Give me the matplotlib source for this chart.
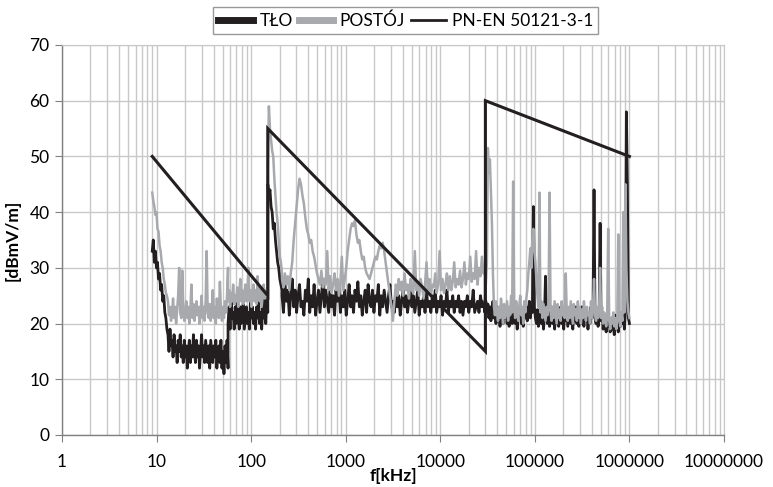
import numpy as np
import matplotlib
matplotlib.use("Agg")
import matplotlib.pyplot as plt
from matplotlib.lines import Line2D
from matplotlib.ticker import LogLocator, FixedLocator

plt.rcParams['font.family'] = ['Lato', 'DejaVu Sans']

# band edges of the sweep [kHz]
BAND_A = (9, 13.2, 57, 150)
BAND_B = (150, 212, 29600)
BAND_C = (29600, 1000000)

# TŁO (background) readings, dB
tlo_a1 = [33, 35, 31, 33, 30, 31, 28, 29, 26, 27, 24, 25, 22, 21, 19, 18]
tlo_a2 = [18, 15, 19, 16, 17, 14, 18, 15, 16, 13, 17, 15, 18, 14, 16, 13, 17, 14, 16, 12,
          15, 17, 13, 16, 14, 18, 15, 13, 17, 14, 16, 12, 15, 18, 14, 16, 13, 17, 15, 13,
          16, 12, 17, 15, 13, 16, 14, 17, 12, 15, 16, 13, 17, 12, 15, 11, 16, 13, 17, 12]
tlo_a3 = [20, 23, 19, 24, 21, 22, 19, 23, 20, 24, 21, 19, 23, 20, 22, 24, 19, 21, 23, 20,
          22, 19, 24, 21, 23, 20, 22, 19, 23, 21, 24, 20, 22, 19, 23, 21, 25, 20, 24, 22]
tlo_b1 = [45, 43, 44, 41, 40, 37, 38, 35, 33, 31, 30, 28, 27, 26]
tlo_b2 = [25, 22, 27, 24, 26, 21.5, 25, 28, 23, 26, 22, 25, 27, 23, 24, 21.5, 26, 24, 28, 22,
          25, 23, 27, 21.5, 24, 26, 22, 25, 28, 23, 26, 24, 22, 27, 23, 25, 21.5, 26, 24, 27,
          22, 25, 23, 26, 21.5, 24, 27, 23, 25, 22, 26, 24, 27.5, 23, 25, 21.5, 24, 26, 22, 27,
          24, 23, 26, 22, 25, 24, 27, 21.5, 25, 23, 26, 24, 22, 25, 27, 23, 24, 22, 26, 23,
          25, 21.5, 24, 26, 23, 25, 22, 24, 26.5, 23, 25, 22, 24, 26, 21.5, 24, 23, 25, 22, 26,
          23, 24, 22, 25, 23, 26, 22, 24, 23, 25, 21.5, 24, 23, 26, 22, 24, 23, 25, 22, 24,
          23, 25, 22, 24, 21.5, 24, 23, 25, 22, 24, 23, 26, 22, 23, 24, 22, 25, 23, 24, 22]
tlo_c = [23, 24, 22, 23.5, 21, 23, 20.5, 22, 24, 21,
         22.5, 20, 23, 21, 22, 19.5, 23, 21.5, 20, 22,
         21, 23, 20, 22, 19.5, 22.5, 21, 20, 23, 21.5,
         20, 22, 19, 22.5, 21, 23, 20, 21.5, 19.5, 22,
         21, 23, 20.5, 22, 24, 21, 23, 22, 41, 23,
         21, 20, 22.5, 19.5, 21, 23, 20, 22, 19, 21.5,
         28.5, 21, 20, 22, 19.5, 21, 23, 20, 22, 19,
         21.5, 20, 22.5, 19.5, 21, 23, 20, 21.5, 19, 22,
         20.5, 23, 19.5, 21, 22.5, 20, 21, 19, 22, 20.5,
         23, 20, 21.5, 19.5, 22, 20, 23, 21, 19.5, 22,
         20.5, 22, 19, 21.5, 20, 23, 21, 22, 44, 21,
         20, 22.5, 19.5, 21, 38, 20.5, 22, 19, 21, 20,
         18.5, 21, 19.5, 20.5, 18.5, 21, 19, 20, 18, 21.5,
         19, 20.5, 18.5, 21, 19.5, 22, 20, 21.5, 19, 22,
         58, 45, 21, 20]

# POSTÓJ (standstill) readings, dB
post_a1 = [43.5, 42, 41, 39.5, 40, 37, 36.5, 34, 33, 31, 30, 28, 27, 25.5, 25, 24]
post_a2 = [24, 21.5, 23, 20.5, 22, 24.5, 21, 23, 20, 22.5, 25, 30, 22, 21, 29.5, 23, 20.5, 22, 24, 21,
           23, 20, 22.5, 27, 21, 23.5, 20.5, 22, 24, 21.5, 23, 20, 22, 25, 21, 23, 20.5, 24, 33, 22,
           21, 23.5, 20.5, 22, 26, 21, 23, 20, 24.5, 22, 21, 27.5, 22.5, 20.5, 23, 21, 24, 22, 25, 30]
post_a3 = [24, 26, 23, 25.5, 24, 27, 23.5, 25, 24, 26.5, 23, 25, 28, 24, 26, 23.5, 25, 27, 24, 25.5,
           30, 24, 26, 23, 25.5, 27, 24, 26, 23.5, 28.5, 25, 24, 26.5, 23, 25, 27, 24.5, 26, 25, 27]
post_b1 = [48, 59, 55, 53, 51, 50, 46, 43, 40, 38, 35, 32, 31, 29]
post_b2 = [28, 26.5, 29, 27, 28.5, 26, 29, 31, 35, 38,
           41, 44, 46, 45, 43, 41.5, 39, 37, 36, 34.5,
           35, 33, 32, 30.5, 29, 28, 27, 29.5, 26.5, 28,
           27, 33, 26, 28.5, 25.5, 27, 29, 26, 28, 25,
           27.5, 32, 26, 28, 30, 33, 35, 37, 38, 37.5,
           38.5, 36, 34.5, 35, 33, 31.5, 32, 30, 29, 28.5,
           28, 29, 30, 31, 32, 31.5, 33, 34, 33.5, 34.5,
           33, 31, 29, 27, 25, 23, 20.5, 24, 27, 25,
           28, 26, 27.5, 25, 29, 26, 27, 24.5, 28, 26,
           25.5, 33, 26, 27.5, 25, 28, 26.5, 24.5, 27, 31,
           26, 28, 25, 27, 26.5, 29, 25.5, 27, 33, 26,
           28, 25.5, 27, 29, 26, 28.5, 26, 27.5, 31, 26.5,
           28, 27, 29.5, 26.5, 28, 31, 27, 29, 28, 32,
           27.5, 29, 28, 33, 27, 30, 28.5, 32, 29, 30]
post_c = [24, 27, 31, 51.5, 47, 49.5, 44, 38, 29, 23,
          21.5, 24, 22, 20.5, 23, 21, 24.5, 22, 20, 23.5,
          21, 22.5, 24, 20.5, 23, 21.5, 25, 22, 45.5, 23,
          21, 24, 22.5, 20.5, 23, 25, 21.5, 23, 20, 24,
          22, 24.5, 26, 29, 31, 33.5, 30, 35, 37, 33,
          31, 28, 25, 23, 43.5, 22, 24, 21, 23.5, 22,
          20.5, 23, 21.5, 24, 43.5, 22, 20.5, 23, 21, 24,
          22, 20, 23.5, 21, 22.5, 20.5, 24, 21.5, 23, 21,
          29, 22, 20.5, 23, 21, 24, 22, 20, 23.5, 21.5,
          22.5, 20.5, 24, 21, 23, 20, 22.5, 21, 24, 22,
          20.5, 23, 21.5, 22, 20, 24, 21, 23, 28, 21.5,
          20.5, 23, 21, 22.5, 30, 21, 23, 20, 22, 21,
          19.5, 21.5, 37, 20.5, 19, 21, 20, 22, 19.5, 21,
          19, 20.5, 36, 21, 19.5, 22, 20.5, 40, 22, 45,
          30, 24, 22, 21]

# PN-EN 50121-3-1 limit
limit_f = [9, 150, 150, 30000, 30000, 1000000]
limit_v = [50, 25, 55, 15, 60, 50]

x_ticks = [1, 10, 100, 1000, 10000, 100000, 1000000, 10000000]
x_labels = ['1', '10', '100', '1000', '10000', '100000', '1000000', '10000000']


def sweep(parts):
    """Join band pieces: each piece is (f_start, f_stop, values) spaced log-evenly."""
    fs, vs = [], []
    for f0, f1, vals in parts:
        fs.append(np.geomspace(f0, f1, len(vals)))
        vs.append(np.asarray(vals, dtype=float))
    return np.concatenate(fs), np.concatenate(vs)


tlo_f, tlo_v = sweep([(BAND_A[0], BAND_A[1], tlo_a1), (BAND_A[1], BAND_A[2], tlo_a2),
                      (BAND_A[2], BAND_A[3], tlo_a3), (BAND_B[0], BAND_B[1], tlo_b1),
                      (BAND_B[1], BAND_B[2], tlo_b2), (BAND_C[0], BAND_C[1], tlo_c)])
post_f, post_v = sweep([(BAND_A[0], BAND_A[1], post_a1), (BAND_A[1], BAND_A[2], post_a2),
                        (BAND_A[2], BAND_A[3], post_a3), (BAND_B[0], BAND_B[1], post_b1),
                        (BAND_B[1], BAND_B[2], post_b2), (BAND_C[0], BAND_C[1], post_c)])

BLACK = '#231f20'
GRAY = '#a7a9ac'
GRID = '#c8c8c8'

fig = plt.figure(figsize=(7.73, 4.87), dpi=100)
ax = fig.add_axes([0.0802, 0.1068, 0.8564, 0.8008])

ax.plot(tlo_f, tlo_v, color=BLACK, lw=2.0, zorder=3)
ax.plot(post_f, post_v, color=GRAY, lw=1.8, zorder=4)
ax.plot(limit_f, limit_v, color=BLACK, lw=2.2, zorder=5, solid_joinstyle='miter')

ax.set_xscale('log')
ax.set_xlim(1, 1e7)
ax.set_ylim(0, 70)
ax.xaxis.set_major_locator(FixedLocator(x_ticks))
ax.set_xticklabels(x_labels)
ax.xaxis.set_minor_locator(LogLocator(base=10, subs=np.arange(2, 10)))
ax.set_yticks(np.arange(0, 71, 10))

ax.grid(True, which='major', color=GRID, lw=1.0)
ax.grid(True, which='minor', axis='x', color=GRID, lw=1.0)
ax.set_axisbelow(True)

ax.tick_params(axis='both', which='major', labelsize=12.5, length=5, color='#808080',
               direction='out', pad=4)
ax.tick_params(axis='x', which='minor', length=0)
ax.tick_params(axis='x', pad=9)

for side in ['left', 'bottom']:
    ax.spines[side].set_color('#808080')
    ax.spines[side].set_linewidth(1.0)
for side in ['top', 'right']:
    ax.spines[side].set_color(GRID)

ax.set_xlabel('f[kHz]', fontsize=12.5, fontweight='bold', labelpad=-2)
ax.set_ylabel('[dBmV/m]', fontsize=12.5, fontweight='bold', labelpad=6)

handles = [Line2D([], [], color=BLACK, lw=5),
           Line2D([], [], color=GRAY, lw=5),
           Line2D([], [], color=BLACK, lw=2)]
leg = fig.legend(handles, ['TŁO', 'POSTÓJ', 'PN-EN 50121-3-1'], loc='center',
                 bbox_to_anchor=(0.525, 0.958), ncol=3, fontsize=12.5, frameon=True,
                 fancybox=False, edgecolor='#808080', handlelength=2.0,
                 handletextpad=0.35, columnspacing=0.35, borderpad=0.3)
leg.get_frame().set_linewidth(1.0)

fig.savefig('out.png', dpi=100)
